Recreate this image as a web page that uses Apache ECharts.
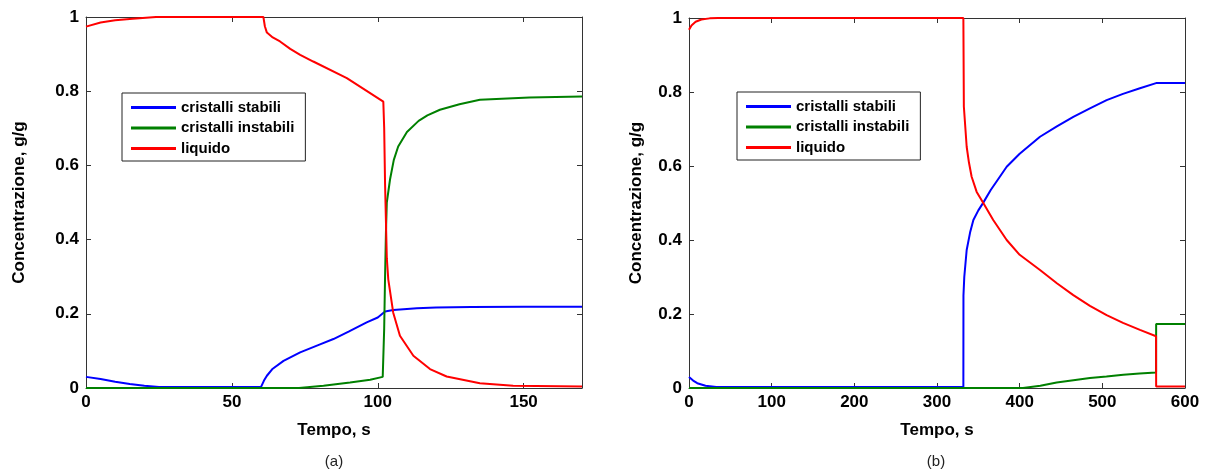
<!DOCTYPE html>
<html>
<head>
<meta charset="utf-8">
<script src="https://cdn.jsdelivr.net/npm/echarts@6/dist/echarts.min.js"></script>
<style>
  html, body { margin: 0; padding: 0; background: #fff; }
  #chart { width: 1206px; height: 472px; }
</style>
</head>
<body>
<div id="chart"></div>
<script>
// (a) 0-170 s
const aStabiliX = [0, 5, 10, 15, 20, 25, 40, 60, 60.3, 61, 62, 64, 67.7, 73.4, 80, 84.8, 90, 96.2, 100, 102.5, 105.3, 110, 113.4, 120, 132, 150, 170];
const aStabiliY = [0.03, 0.024, 0.017, 0.011, 0.006, 0.003, 0.003, 0.003, 0.003, 0.02, 0.033, 0.052, 0.073, 0.096, 0.117, 0.132, 0.152, 0.177, 0.19, 0.206, 0.21, 0.213, 0.215, 0.217, 0.218, 0.219, 0.219];
const aInstabiliX = [0, 73, 81.4, 90.5, 97.4, 101.7, 102.2, 102.5, 102.8, 103.1, 104.2, 105.5, 107, 110, 114, 117, 121.3, 128, 135, 152, 170];
const aInstabiliY = [0, 0, 0.006, 0.015, 0.022, 0.03, 0.16, 0.3, 0.42, 0.5, 0.562, 0.615, 0.651, 0.69, 0.72, 0.735, 0.75, 0.765, 0.777, 0.783, 0.786];
const aLiquidoX = [0, 5, 10, 16, 24, 60.8, 61.3, 62, 64, 66.5, 70, 73.4, 77.9, 89.4, 101.9, 102.2, 102.5, 103.1, 103.6, 105.3, 107.6, 112.2, 117.9, 123.6, 135, 146.4, 170];
const aLiquidoY = [0.974, 0.985, 0.991, 0.995, 1, 1, 0.975, 0.958, 0.945, 0.934, 0.914, 0.898, 0.88, 0.835, 0.772, 0.7, 0.55, 0.35, 0.293, 0.203, 0.141, 0.087, 0.051, 0.031, 0.013, 0.006, 0.004];

// (b) 0-600 s
const bStabiliX = [0, 5, 10, 20, 33, 100, 200, 331.9, 332, 333, 335.9, 340, 344, 350, 356, 365, 384.3, 400, 424.6, 445, 464.9, 485, 505.2, 525, 545.5, 565, 600];
const bStabiliY = [0.03, 0.02, 0.013, 0.006, 0.003, 0.003, 0.003, 0.003, 0.25, 0.3, 0.373, 0.42, 0.454, 0.48, 0.501, 0.535, 0.598, 0.633, 0.679, 0.707, 0.733, 0.756, 0.778, 0.795, 0.81, 0.824, 0.824];
const bInstabiliX = [0, 404, 425, 444.8, 465, 485, 505, 525.4, 545, 565, 565.1, 600];
const bInstabiliY = [0, 0, 0.006, 0.015, 0.021, 0.027, 0.031, 0.036, 0.039, 0.042, 0.173, 0.173];
const bLiquidoX = [0, 3, 8, 15, 25, 35, 331.9, 332.5, 335.9, 338.6, 341.9, 348, 356, 368, 384.3, 400, 424.6, 445, 464.9, 485, 505.2, 525, 545.5, 565, 565.1, 600];
const bLiquidoY = [0.968, 0.98, 0.99, 0.996, 0.999, 1, 1, 0.76, 0.652, 0.61, 0.571, 0.53, 0.5, 0.454, 0.4, 0.36, 0.319, 0.283, 0.251, 0.222, 0.197, 0.176, 0.157, 0.14, 0.004, 0.004];

const seriesNames = ["cristalli stabili", "cristalli instabili", "liquido"];
const seriesColors = ["#0000ff", "#008000", "#ff0000"];

const FONT = "Liberation Sans, Arial, sans-serif";

function zip(xs, ys) {
  return xs.map((x, i) => [x, ys[i]]);
}

function xAxes(grid, max, interval) {
  const tick = { show: true, inside: true, length: 5, lineStyle: { color: "#333" } };
  const line = { show: true, onZero: false, lineStyle: { color: "#333", width: 1 } };
  return [
    {
      gridIndex: grid, type: "value", min: 0, max: max, interval: interval, position: "bottom",
      axisLine: line, axisTick: tick, splitLine: { show: false },
      axisLabel: { color: "#000", fontFamily: FONT, fontWeight: "bold", fontSize: 17, margin: 6, showMaxLabel: max === 600 },
      name: "Tempo, s", nameLocation: "middle", nameGap: 34,
      nameTextStyle: { color: "#000", fontFamily: FONT, fontWeight: "bold", fontSize: 17 },
    },
    {
      gridIndex: grid, type: "value", min: 0, max: max, interval: interval, position: "top",
      axisLine: line, axisTick: tick, splitLine: { show: false }, axisLabel: { show: false },
    },
  ];
}

function yAxes(grid, nameGap) {
  const tick = { show: true, inside: true, length: 5, lineStyle: { color: "#333" } };
  const line = { show: true, onZero: false, lineStyle: { color: "#333", width: 1 } };
  return [
    {
      gridIndex: grid, type: "value", min: 0, max: 1, interval: 0.2, position: "left",
      axisLine: line, axisTick: tick, splitLine: { show: false },
      axisLabel: { color: "#000", fontFamily: FONT, fontWeight: "bold", fontSize: 17, margin: 7 },
      name: "Concentrazione, g/g", nameLocation: "middle", nameGap: nameGap,
      nameTextStyle: { color: "#000", fontFamily: FONT, fontWeight: "bold", fontSize: 17 },
    },
    {
      gridIndex: grid, type: "value", min: 0, max: 1, interval: 0.2, position: "right",
      axisLine: line, axisTick: tick, splitLine: { show: false }, axisLabel: { show: false },
    },
  ];
}

function makeSeries(axisIndex, dataSets) {
  return dataSets.map((data, i) => ({
    name: seriesNames[i],
    type: "line",
    xAxisIndex: axisIndex,
    yAxisIndex: axisIndex,
    data: data,
    symbol: "none",
    showSymbol: false,
    color: seriesColors[i],
    lineStyle: { width: 2, color: seriesColors[i] },
    z: 3 + i,
  }));
}

function legendBox(left, top) {
  return {
    data: seriesNames.map((name) => ({ name: name, icon: "rect" })),
    orient: "vertical",
    left: left,
    top: top,
    itemWidth: 45,
    itemHeight: 3,
    itemGap: 5.5,
    padding: [7, 11, 5, 9],
    backgroundColor: "#fff",
    borderColor: "#222",
    borderWidth: 1,
    selectedMode: false,
    textStyle: { color: "#000", fontFamily: FONT, fontWeight: "bold", fontSize: 15 },
  };
}

const chart = echarts.init(document.getElementById("chart"));

chart.setOption({
  animation: false,
  backgroundColor: "#fff",
  grid: [
    { left: 86, top: 17, width: 496, height: 371 },
    { left: 689, top: 18, width: 496, height: 370 },
  ],
  xAxis: [...xAxes(0, 170, 50), ...xAxes(1, 600, 100)],
  yAxis: [...yAxes(0, 58), ...yAxes(1, 44)],
  legend: [legendBox(122, 93), legendBox(737, 92)],
  series: [
    ...makeSeries(0, [zip(aStabiliX, aStabiliY), zip(aInstabiliX, aInstabiliY), zip(aLiquidoX, aLiquidoY)]),
    ...makeSeries(2, [zip(bStabiliX, bStabiliY), zip(bInstabiliX, bInstabiliY), zip(bLiquidoX, bLiquidoY)]),
  ],
  graphic: [
    { type: "text", x: 334, y: 462, style: { text: "(a)", fontFamily: FONT, fontSize: 15, fill: "#222", align: "center", verticalAlign: "middle" } },
    { type: "text", x: 936, y: 462, style: { text: "(b)", fontFamily: FONT, fontSize: 15, fill: "#222", align: "center", verticalAlign: "middle" } },
  ],
});
</script>
</body>
</html>
